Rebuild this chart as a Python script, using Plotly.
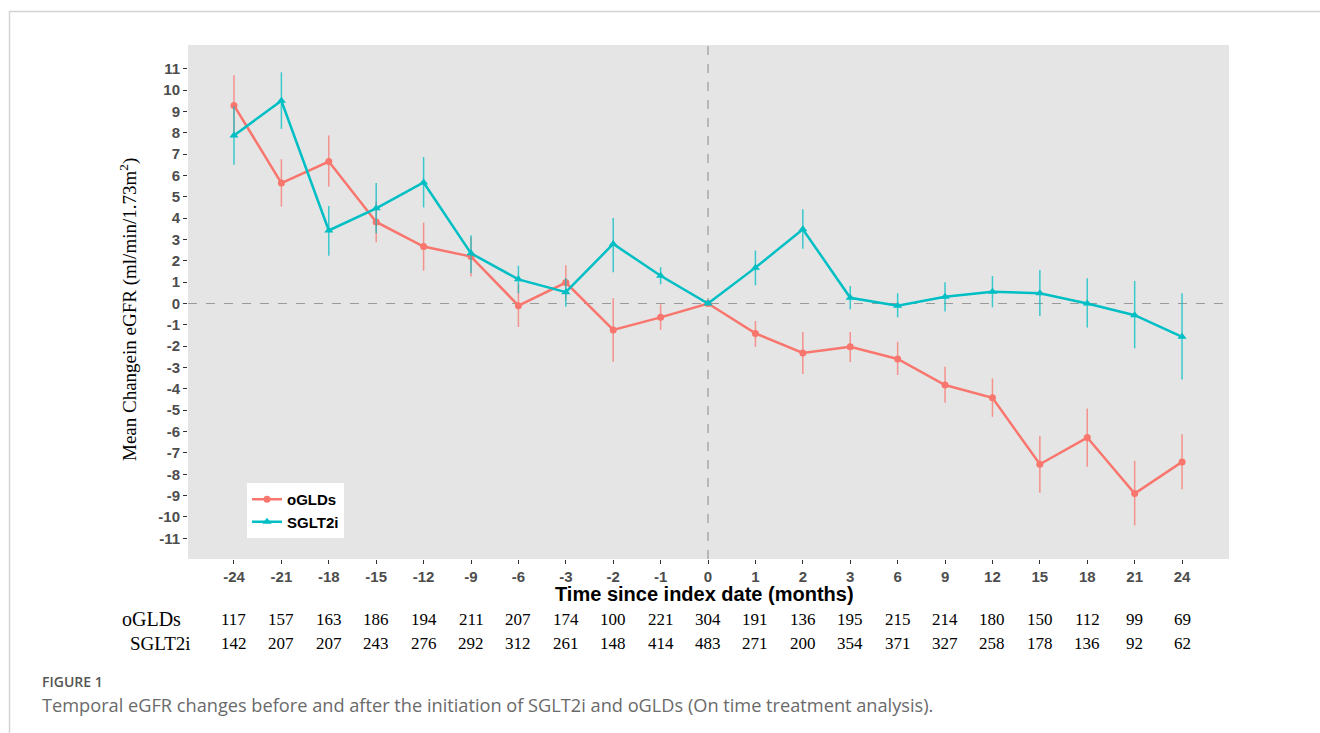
import plotly.graph_objects as go

# Months relative to index date (categorical axis positions)
months = ["-24", "-21", "-18", "-15", "-12", "-9", "-6", "-3", "-2", "-1", "0",
          "1", "2", "3", "6", "9", "12", "15", "18", "21", "24"]

# oGLDs: mean change in eGFR with lower / upper bounds
oglds_mean = [9.28, 5.64, 6.65, 3.82, 2.67, 2.20, -0.10, 0.98, -1.24, -0.65, 0.0,
              -1.40, -2.32, -2.03, -2.60, -3.82, -4.42, -7.53, -6.28, -8.90, -7.42]
oglds_lo = [7.87, 4.54, 5.48, 2.87, 1.54, 1.26, -1.10, 0.17, -2.73, -1.24, 0.0,
            -2.03, -3.30, -2.74, -3.35, -4.65, -5.31, -8.87, -7.65, -10.40, -8.70]
oglds_hi = [10.69, 6.76, 7.87, 4.77, 3.79, 3.10, 0.90, 1.79, 0.24, -0.04, 0.0,
            -0.82, -1.34, -1.34, -1.79, -2.96, -3.51, -6.21, -4.92, -7.37, -6.12]

# SGLT2i: mean change in eGFR with lower / upper bounds
sglt2i_mean = [7.87, 9.50, 3.42, 4.46, 5.67, 2.35, 1.13, 0.53, 2.79, 1.30, 0.0,
               1.68, 3.48, 0.27, -0.10, 0.32, 0.55, 0.48, 0.00, -0.55, -1.56]
sglt2i_lo = [6.50, 8.18, 2.24, 3.29, 4.50, 1.43, 0.48, -0.15, 1.46, 0.90, 0.0,
             0.85, 2.56, -0.27, -0.65, -0.37, -0.18, -0.59, -1.13, -2.10, -3.56]
sglt2i_hi = [9.23, 10.83, 4.57, 5.64, 6.86, 3.20, 1.77, 1.20, 4.00, 1.70, 0.0,
             2.48, 4.42, 0.82, 0.48, 0.99, 1.29, 1.57, 1.18, 1.06, 0.48]

# Number of patients at each time point
oglds_n = [117, 157, 163, 186, 194, 211, 207, 174, 100, 221, 304,
           191, 136, 195, 215, 214, 180, 150, 112, 99, 69]
sglt2i_n = [142, 207, 207, 243, 276, 292, 312, 261, 148, 414, 483,
            271, 200, 354, 371, 327, 258, 178, 136, 92, 62]

y_ticks = list(range(-11, 12))

RED = "#F8766D"
CYAN = "#00BFC4"

W, H = 1320, 733
L, R, T, B = 188, 91, 45, 174


def px(x):
    return (x - L) / (W - L - R)


def py(y):
    return (H - B - y) / (H - T - B)


def err(mean, lo, hi):
    return ([h - m for m, h in zip(mean, hi)], [m - l for m, l in zip(mean, lo)])


fig = go.Figure()

for name, mean, lo, hi, color, err_color, symbol, size in [
    ("oGLDs", oglds_mean, oglds_lo, oglds_hi, RED, "rgba(248,118,109,0.75)", "circle", 7),
    ("SGLT2i", sglt2i_mean, sglt2i_lo, sglt2i_hi, CYAN, "rgba(0,191,196,0.75)", "triangle-up", 8),
]:
    up, down = err(mean, lo, hi)
    fig.add_trace(go.Scatter(
        x=months, y=mean, name=name, mode="lines+markers",
        line=dict(color=color, width=2.5),
        marker=dict(color=color, symbol=symbol, size=size),
        error_y=dict(type="data", symmetric=False, array=up, arrayminus=down,
                     width=0, thickness=1.5, color=err_color),
    ))

shapes = [
    # reference lines at zero change and at the index date
    dict(type="line", xref="paper", yref="y", x0=0, x1=1, y0=0, y1=0,
         line=dict(color="#9a9a9a", width=1.2, dash="dash"), layer="below"),
    dict(type="line", xref="x", yref="paper", x0=10, x1=10, y0=0, y1=1,
         line=dict(color="#9a9a9a", width=1.2, dash="dash"), layer="below"),
    # page frame
    dict(type="line", xref="paper", yref="paper", x0=px(9), x1=px(1320), y0=py(11.5), y1=py(11.5),
         line=dict(color="#d4d4d4", width=1.5)),
    dict(type="line", xref="paper", yref="paper", x0=px(9.5), x1=px(9.5), y0=py(11), y1=py(733),
         line=dict(color="#d4d4d4", width=1.5)),
]

serif = "Liberation Serif, Times New Roman"

annotations = [
    dict(text="Time since index date (months)", xref="paper", yref="paper",
         x=px(704), y=py(594), xanchor="center", yanchor="middle", showarrow=False,
         font=dict(family="Arial, Liberation Sans", size=20, color="black", weight="bold")),
    dict(text="Mean Changein eGFR (ml/min/1.73m<sup>2</sup>)", xref="paper", yref="paper",
         x=px(128), y=py(310), xanchor="center", yanchor="middle", textangle=-90, showarrow=False,
         font=dict(family=serif, size=19, color="black")),
    dict(text="oGLDs", xref="paper", yref="paper", x=px(120), y=py(619),
         xanchor="left", yanchor="middle", showarrow=False,
         font=dict(family=serif, size=20, color="black")),
    dict(text="SGLT2i", xref="paper", yref="paper", x=px(128), y=py(643),
         xanchor="left", yanchor="middle", showarrow=False,
         font=dict(family=serif, size=19, color="black")),
    dict(text="FIGURE 1", xref="paper", yref="paper", x=px(40), y=py(681.5),
         xanchor="left", yanchor="middle", showarrow=False,
         font=dict(family="Open Sans", size=14, color="#555555", weight=600)),
    dict(text="Temporal eGFR changes before and after the initiation of SGLT2i and oGLDs (On time treatment analysis).",
         xref="paper", yref="paper", x=px(40), y=py(705),
         xanchor="left", yanchor="middle", showarrow=False,
         font=dict(family="Open Sans", size=18.2, color="#6a6a6a")),
]

# patient counts, one column per time point, centred on the category positions
for i, (a, b) in enumerate(zip(oglds_n, sglt2i_n)):
    for val, ypix in ((a, 619), (b, 643)):
        annotations.append(dict(
            text=str(val), xref="x", yref="paper", x=i, y=py(ypix),
            xanchor="center", yanchor="middle", showarrow=False,
            font=dict(family=serif, size=17, color="black")))

tick_font = dict(family="Arial, Liberation Sans", size=15, color="#4d4d4d", weight="bold")

fig.update_layout(
    width=W, height=H,
    margin=dict(l=L, r=R, t=T, b=B, pad=0),
    paper_bgcolor="white", plot_bgcolor="#e5e5e5",
    xaxis=dict(type="category", categoryorder="array", categoryarray=months,
               range=[-0.97, 20.99], showgrid=False, zeroline=False,
               ticks="outside", ticklen=4, tickcolor="#333333", tickwidth=1,
               tickfont=tick_font, showline=False),
    yaxis=dict(range=[-11.97, 12.11], tickvals=y_ticks, ticktext=[str(v) for v in y_ticks],
               showgrid=False, zeroline=False, ticks="outside", ticklen=4,
               tickcolor="#333333", tickwidth=1, tickfont=tick_font, showline=False),
    showlegend=True,
    legend=dict(x=px(247), y=py(483), xanchor="left", yanchor="top",
                bgcolor="white", borderwidth=0,
                font=dict(family="Arial, Liberation Sans", size=15, color="black", weight="bold"),
                itemwidth=30, tracegroupgap=0),
    shapes=shapes,
    annotations=annotations,
)

fig.write_html("out.html")
